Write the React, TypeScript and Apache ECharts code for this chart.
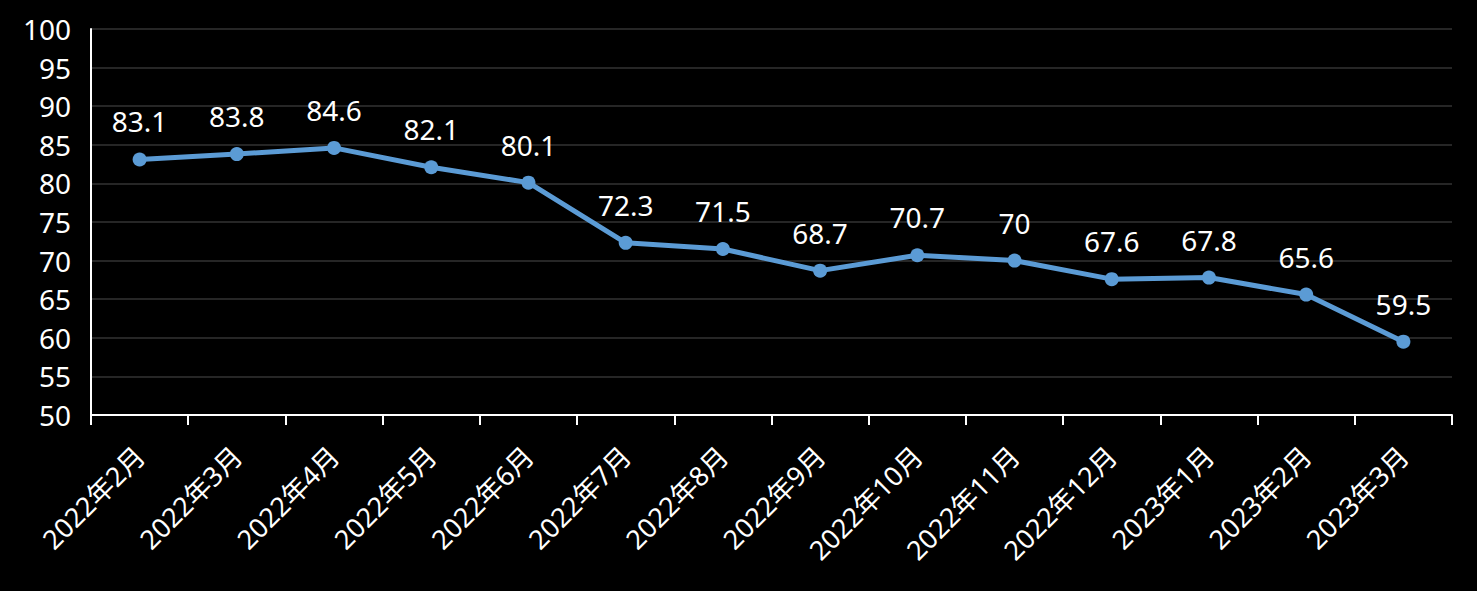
import React, { useEffect, useRef } from "react";
import * as echarts from "echarts";

const categories = [
  "2022年2月", "2022年3月", "2022年4月", "2022年5月", "2022年6月", "2022年7月", "2022年8月",
  "2022年9月", "2022年10月", "2022年11月", "2022年12月", "2023年1月", "2023年2月", "2023年3月",
];
const values = [83.1, 83.8, 84.6, 82.1, 80.1, 72.3, 71.5, 68.7, 70.7, 70, 67.6, 67.8, 65.6, 59.5];
const yMin = 50;
const yMax = 100;
const yStep = 5;

const FONT = "'Noto Sans', 'Noto Sans CJK SC', sans-serif";

export default function App() {
  const ref = useRef<HTMLDivElement>(null);
  useEffect(() => {
    if (!ref.current) return;
    const chart = echarts.init(ref.current, null, { renderer: "svg" });
    chart.setOption({
      animation: false,
      backgroundColor: "#000000",
      grid: { left: 91, right: 25, top: 29, bottom: 176 },
      xAxis: {
        type: "category",
        data: categories,
        boundaryGap: true,
        axisLine: { lineStyle: { color: "#ffffff", width: 2 } },
        axisTick: { show: true, length: 10, lineStyle: { color: "#ffffff", width: 2 } },
        axisLabel: {
          rotate: 45,
          interval: 0,
          color: "#ffffff",
          fontSize: 27,
          fontFamily: FONT,
          margin: 36,
        },
      },
      yAxis: {
        type: "value",
        min: yMin,
        max: yMax,
        interval: yStep,
        axisLine: { show: true, lineStyle: { color: "#ffffff", width: 2 } },
        axisTick: { show: false },
        axisLabel: { color: "#ffffff", fontSize: 28, fontFamily: FONT, margin: 20 },
        splitLine: { lineStyle: { color: "#262626", width: 2 } },
      },
      series: [
        {
          type: "line",
          data: values,
          symbol: "circle",
          symbolSize: 14,
          lineStyle: { color: "#5b9bd5", width: 5 },
          itemStyle: { color: "#5b9bd5" },
          label: {
            show: true,
            position: "top",
            distance: 17,
            color: "#ffffff",
            fontSize: 28,
            fontFamily: FONT,
          },
        },
      ],
    });
    return () => chart.dispose();
  }, []);
  return <div ref={ref} style={{ width: 1477, height: 591, position: "absolute", left: 0, top: 0 }} />;
}
